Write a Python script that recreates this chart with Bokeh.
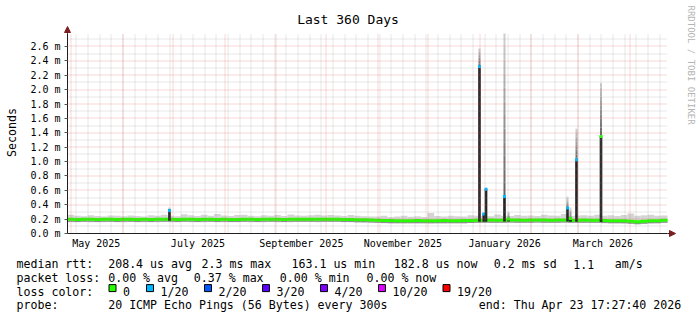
import math
import pandas as pd
from math import pi
from bokeh.plotting import figure
from bokeh.models import (Range1d, FixedTicker, Arrow, NormalHead, LinearAxis, DatetimeAxis)
from bokeh.embed import file_html
from bokeh.resources import INLINE
from bokeh.core.properties import value

# ---------------- data ----------------
end_time = "2026-04-23 17:27:40"
span_days = 360
base_step_days = 4

# baseline median RTT (ms), one value per 4 days
base_median = [
    0.197, 0.196, 0.198, 0.197, 0.195, 0.197, 0.198, 0.196, 0.197, 0.198,
    0.196, 0.197, 0.195, 0.197, 0.198, 0.197, 0.196, 0.198, 0.197, 0.196,
    0.197, 0.198, 0.196, 0.197, 0.195, 0.196, 0.198, 0.197, 0.196, 0.197,
    0.198, 0.197, 0.196, 0.197, 0.198, 0.199, 0.198, 0.197, 0.198, 0.199,
    0.198, 0.196, 0.194, 0.192, 0.190, 0.187, 0.183, 0.180, 0.179, 0.178,
    0.177, 0.178, 0.179, 0.177, 0.176, 0.178, 0.179, 0.177, 0.178, 0.179,
    0.181, 0.183, 0.185, 0.186, 0.185, 0.186, 0.187, 0.186, 0.185, 0.186,
    0.187, 0.186, 0.185, 0.186, 0.187, 0.185, 0.184, 0.186, 0.185, 0.183,
    0.180, 0.178, 0.177, 0.176, 0.170, 0.165, 0.172, 0.176, 0.178, 0.183,
]
# smoke (ping spread) lower and upper bounds (ms)
base_smoke_lo = [
    0.158, 0.157, 0.159, 0.158, 0.156, 0.158, 0.159, 0.157, 0.158, 0.159,
    0.157, 0.158, 0.156, 0.158, 0.159, 0.158, 0.157, 0.159, 0.158, 0.157,
    0.158, 0.159, 0.157, 0.158, 0.156, 0.157, 0.159, 0.158, 0.157, 0.158,
    0.159, 0.158, 0.157, 0.158, 0.159, 0.160, 0.159, 0.158, 0.159, 0.160,
    0.159, 0.157, 0.155, 0.153, 0.151, 0.149, 0.146, 0.144, 0.143, 0.142,
    0.141, 0.142, 0.143, 0.141, 0.140, 0.142, 0.143, 0.141, 0.142, 0.143,
    0.145, 0.147, 0.149, 0.150, 0.149, 0.150, 0.151, 0.150, 0.149, 0.150,
    0.151, 0.150, 0.149, 0.150, 0.151, 0.149, 0.148, 0.150, 0.149, 0.147,
    0.144, 0.142, 0.141, 0.140, 0.135, 0.131, 0.137, 0.140, 0.142, 0.147,
]
base_smoke_hi = [
    0.262, 0.248, 0.241, 0.255, 0.244, 0.238, 0.251, 0.246, 0.240, 0.249,
    0.243, 0.237, 0.252, 0.245, 0.262, 0.248, 0.241, 0.268, 0.255, 0.244,
    0.259, 0.247, 0.271, 0.250, 0.243, 0.256, 0.262, 0.248, 0.241, 0.252,
    0.246, 0.258, 0.244, 0.265, 0.251, 0.247, 0.255, 0.262, 0.249, 0.256,
    0.251, 0.244, 0.258, 0.247, 0.241, 0.236, 0.238, 0.245, 0.231, 0.236,
    0.248, 0.233, 0.239, 0.229, 0.284, 0.242, 0.237, 0.247, 0.241, 0.238,
    0.252, 0.246, 0.243, 0.239, 0.265, 0.248, 0.242, 0.257, 0.246, 0.251,
    0.244, 0.261, 0.249, 0.245, 0.270, 0.243, 0.251, 0.255, 0.248, 0.262,
    0.246, 0.253, 0.244, 0.258, 0.277, 0.246, 0.252, 0.262, 0.248, 0.250,
]

# latency spikes
spike_time = [
    "2025-06-28 22:00", "2025-12-31 22:00", "2026-01-03 12:00", "2026-01-04 20:00",
    "2026-01-15 22:00", "2026-01-18 08:00", "2026-02-22 17:00", "2026-02-24 12:00",
    "2026-02-28 03:00", "2026-03-14 20:00",
]
spike_median = [0.32, 2.32, 0.27, 0.615, 0.515, 0.20, 0.355, 0.21, 1.025, 1.35]
spike_smoke_top = [0.36, 2.57, 0.29, 0.635, 2.78, 0.30, 0.51, 0.36, 1.456, 2.09]
spike_loss = [1, 1, 1, 1, 1, 0, 1, 0, 1, 0]

loss_labels = ["0", "1/20", "2/20", "3/20", "4/20", "10/20", "19/20"]
loss_colors = ["#26ff00", "#00b8ff", "#0059ff", "#5e00ff", "#7e00ff", "#dd00ff", "#ff0000"]

y_tick_values = [0.0, 0.2, 0.4, 0.6, 0.8, 1.0, 1.2, 1.4, 1.6, 1.8, 2.0, 2.2, 2.4, 2.6]
y_tick_labels = ["0.0 m", "0.2 m", "0.4 m", "0.6 m", "0.8 m", "1.0 m", "1.2 m",
                 "1.4 m", "1.6 m", "1.8 m", "2.0 m", "2.2 m", "2.4 m", "2.6 m"]
y_minor_values = [0.1, 0.3, 0.5, 0.7, 0.9, 1.1, 1.3, 1.5, 1.7, 1.9, 2.1, 2.3, 2.5, 2.7]
x_label_months = ["2025-05-01", "2025-07-01", "2025-09-01", "2025-11-01", "2026-01-01", "2026-03-01"]
x_label_texts = ["May 2025", "July 2025", "September 2025", "November 2025", "January 2026", "March 2026"]

title_text = "Last 360 Days"
y_title = "Seconds"
watermark_text = "RRDTOOL / TOBI OETIKER"
stat_line1 = ["median rtt:", "208.4 us avg", "2.3 ms max", "163.1 us min", "182.8 us now",
              "0.2 ms sd", "1.1", "am/s"]
stat_line2 = ["packet loss:", "0.00 % avg", "0.37 % max", "0.00 % min", "0.00 % now"]
stat_line3 = ["loss color:"]
stat_line4 = ["probe:", "20 ICMP Echo Pings (56 Bytes) every 300s", "end: Thu Apr 23 17:27:40 2026"]

# ---------------- layout / style ----------------
W, H = 697, 315
FL, FW, FT, FH = 67, 600, 33, 200     # chart area in canvas pixels
Y_MAX = 2.78
MONO = "DejaVu Sans Mono"
AXIS_C = "#1f1f1f"
ARROW_C = "#801f1f"
MGRID_C = "#de4f4f"
GRID_C = "#8f8f8f"


def ms(t):
    return pd.Timestamp(t).value / 1e6


END = pd.Timestamp(end_time)
START = END - pd.Timedelta(days=span_days)
x0, x1 = ms(START), ms(END)
SPAN = x1 - x0
DAY = 86400000.0


def snap_t(t):
    """move a grid time onto a pixel centre so dotted lines stay crisp"""
    px = FL + (t - x0) / SPAN * FW
    return x0 + (math.floor(px) + 0.5 - FL) / FW * SPAN


def snap_v(v):
    py = FT + FH - v / Y_MAX * FH
    return (FT + FH - (math.floor(py) + 0.5)) / FH * Y_MAX


p = figure(width=W, height=H, x_range=Range1d(0, W), y_range=Range1d(H, 0),
           x_axis_type=None, y_axis_type=None,
           output_backend="svg", toolbar_location=None, min_border=0,
           outline_line_color=None, background_fill_color="white",
           border_fill_color="white")
p.title.visible = False
p.extra_x_ranges = {"time": Range1d(x0 - FL / FW * SPAN, x0 + (W - FL) / FW * SPAN)}
p.extra_y_ranges = {"rtt": Range1d(-(H - FT - FH) / FH * Y_MAX, (FT + FH) / FH * Y_MAX)}
C = dict(x_range_name="time", y_range_name="rtt")

# baseline smoke
n = len(base_median)
left = [ms(START + pd.Timedelta(days=base_step_days * i)) for i in range(n)]
right = left[1:] + [x1]
p.quad(left=left, right=right, bottom=base_smoke_lo, top=base_smoke_hi,
       fill_color="#d4d4d4", line_color=None, **C)
p.quad(left=left, right=right, bottom=[m - 0.035 for m in base_median],
       top=[m - 0.015 for m in base_median], fill_color="#8c8c8c", line_color=None, **C)
p.step(x=left + [x1], y=base_median + [base_median[-1]], mode="after",
       line_color=loss_colors[0], line_width=3, **C)

# spikes
BAR_W = 1.6 * DAY
SMOKE_W = 1.2 * DAY
NSEG = 12
for t, med, top, loss in zip(spike_time, spike_median, spike_smoke_top, spike_loss):
    tm = ms(t)
    idx = min(int((tm - x0) // (base_step_days * DAY)), n - 1)
    b = base_median[idx] - 0.02
    xs, bots, tops, cols = [], [], [], []
    for k in range(NSEG):
        f = k / NSEG
        v = int(round(100 + (215 - 100) * f))
        xs.append(tm)
        bots.append(med + (top - med) * k / NSEG)
        tops.append(med + (top - med) * (k + 1) / NSEG)
        cols.append("#%02x%02x%02x" % (v, v, v))
    p.vbar(x=xs, width=SMOKE_W, bottom=bots, top=tops, fill_color=cols, line_color=None, **C)
    if med > b:
        p.vbar(x=[tm], width=BAR_W, bottom=[b], top=[med], fill_color="#242424",
               line_color=None, **C)
    p.scatter(x=[tm], y=[med], marker="square", size=3,
              fill_color=loss_colors[loss], line_color=None, **C)

# grid (drawn above the data, confined to the chart area)
month_ticks = [snap_t(ms(t)) for t in pd.date_range("2025-05-01", "2026-04-01", freq="MS")]
week_ticks = [snap_t(ms(t)) for t in pd.date_range("2025-05-04", "2026-04-19", freq="7D")]
minor_v = [snap_v(v) for v in y_minor_values]
major_v = [snap_v(v) for v in y_tick_values[1:]]
p.segment(x0=week_ticks, y0=[0] * len(week_ticks), x1=week_ticks, y1=[Y_MAX] * len(week_ticks),
          line_color=GRID_C, line_alpha=0.42, line_dash="1 1", **C)
p.segment(x0=[x0] * len(minor_v), y0=minor_v, x1=[x1] * len(minor_v), y1=minor_v,
          line_color=GRID_C, line_alpha=0.42, line_dash="1 1", **C)
p.segment(x0=month_ticks, y0=[0] * len(month_ticks), x1=month_ticks, y1=[Y_MAX] * len(month_ticks),
          line_color=MGRID_C, line_alpha=0.45, line_dash="1 1", **C)
p.segment(x0=[x0] * len(major_v), y0=major_v, x1=[x1] * len(major_v), y1=major_v,
          line_color=MGRID_C, line_alpha=0.45, line_dash="1 1", **C)

# axes (fixed at the chart edges)
yax = LinearAxis(fixed_location=x0, bounds=(0, Y_MAX), **C)
yax.ticker = FixedTicker(ticks=y_tick_values)
yax.major_label_overrides = dict(zip(y_tick_values, y_tick_labels))
yax.major_tick_out = 3
yax.major_tick_in = 0
yax.minor_tick_out = 0
yax.minor_tick_in = 0
yax.major_label_standoff = 4
yax.axis_line_color = AXIS_C
yax.major_tick_line_color = "#555555"
yax.major_label_text_font = MONO
yax.major_label_text_font_size = "10px"
yax.major_label_text_color = "#000000"
p.add_layout(yax, "left")

x_label_pos = [ms(pd.Timestamp(m) + pd.Timedelta(days=15)) for m in x_label_months]
xax = DatetimeAxis(fixed_location=0, bounds=(x0, x1), **C)
xax.ticker = FixedTicker(ticks=x_label_pos)
xax.major_label_overrides = dict(zip(x_label_pos, x_label_texts))
xax.major_tick_out = 0
xax.major_tick_in = 0
xax.minor_tick_out = 0
xax.minor_tick_in = 0
xax.major_label_standoff = 4
xax.axis_line_color = AXIS_C
xax.major_label_text_font = MONO
xax.major_label_text_font_size = "10px"
xax.major_label_text_color = "#000000"
p.add_layout(xax, "below")

# arrows at the axis ends
p.add_layout(Arrow(end=NormalHead(size=6, fill_color=ARROW_C, line_color=ARROW_C),
                   x_start=FL + FW, y_start=FT + FH, x_end=FL + FW + 8, y_end=FT + FH,
                   line_color=AXIS_C))
p.add_layout(Arrow(end=NormalHead(size=6, fill_color=ARROW_C, line_color=ARROW_C),
                   x_start=FL, y_start=FT, x_end=FL, y_end=FT - 7, line_color=AXIS_C))

# title, axis title, watermark
p.text(x=[347.5], y=[18.5], text=[title_text], text_align="center", text_baseline="alphabetic",
       text_font=value(MONO), text_font_size="13px", text_color="#000000")
p.text(x=[11.5], y=[132], text=[y_title], angle=pi / 2, text_align="center",
       text_baseline="middle", text_font=value(MONO), text_font_size="11.6px",
       text_color="#000000")
p.text(x=[690], y=[5], text=[watermark_text], angle=-pi / 2, text_align="left",
       text_baseline="middle", text_font=value(MONO), text_font_size="9px",
       text_color="#b4b4b4")

# statistics / legend lines
line_y = [263.5, 277.3, 291.0, 304.7]
line1_x = [16, 107.7, 201, 291, 393.3, 493.3, 572.7, 614.3]
line2_x = [16, 107.7, 193.3, 279.3, 366]
line3_x = [16]
line4_x = [16, 107.7, 478.3]
tx, ty, tt = [], [], []
for xs_, txt_, yy in ((line1_x, stat_line1, line_y[0]), (line2_x, stat_line2, line_y[1]),
                      (line3_x, stat_line3, line_y[2]), (line4_x, stat_line4, line_y[3])):
    for a, s in zip(xs_, txt_):
        tx.append(a)
        ty.append(yy)
        tt.append(s)

box_left = [108, 145.5, 203.5, 261.5, 319.5, 377.5, 442]
for bl, lab in zip(box_left, loss_labels):
    tx.append(bl + 14.5)
    ty.append(line_y[2])
    tt.append(lab)

p.text(x=tx, y=ty, text=tt, text_font=value(MONO), text_font_size="11.6px",
       text_baseline="alphabetic", text_align="left", text_color="#000000")
p.rect(x=[b + 4 for b in box_left], y=[287.6] * len(box_left), width=7, height=7,
       fill_color=loss_colors, line_color="#000000", line_width=1)

open("out.html", "w").write(file_html(p, INLINE))
